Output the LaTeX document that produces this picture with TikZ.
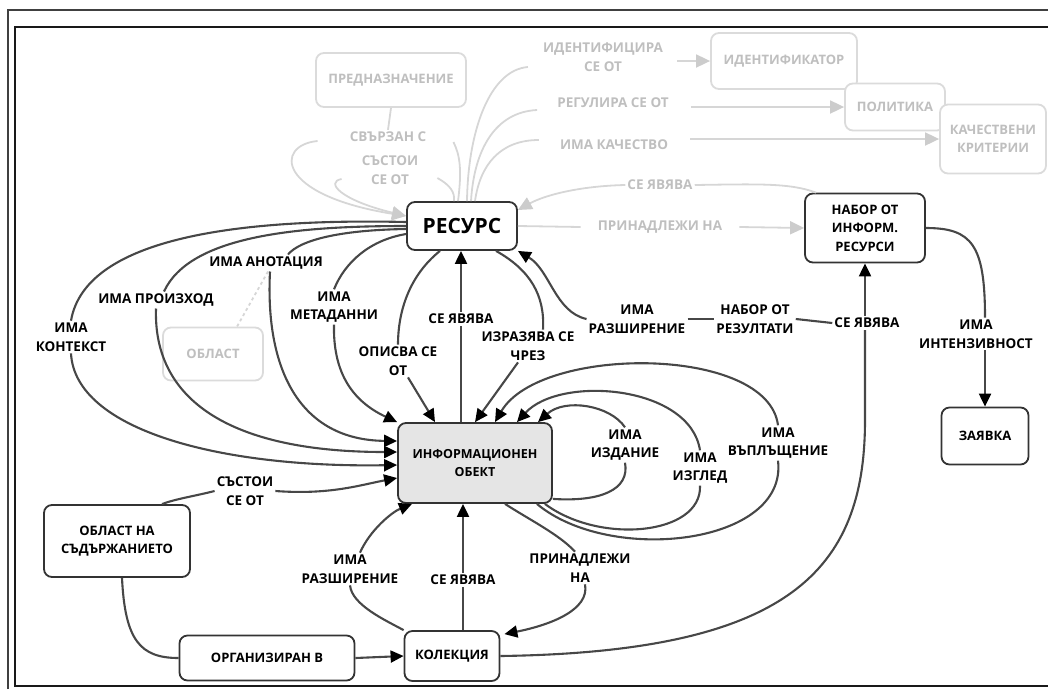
\documentclass[tikz,border=0pt]{standalone}
\usepackage{fontspec}
\setmainfont{Open Sans}
\usetikzlibrary{arrows.meta,calc}
\begin{document}
\begin{tikzpicture}[x=1pt,y=-1pt,
  concept/.style={draw=black!80, line width=1.8pt, rounded corners=8pt, fill=white,
    align=center, font=\bfseries\fontsize{13}{18.5}\selectfont, inner sep=0pt},
  faint/.style={concept, draw=black!14, text=black!25},
  lbl/.style={align=center, font=\bfseries\fontsize{13.5}{18.5}\selectfont, inner sep=2pt},
  flbl/.style={lbl, text=black!25},
  cline/.style={draw=black!72, line width=2.1pt},
  fline/.style={draw=black!16, line width=1.8pt},
  arrowhd/.style={-{Triangle[length=13pt,width=12pt,color=black]}},
  farrowhd/.style={-{Triangle[length=14pt,width=13pt,color=black!20]}},
]
\useasboundingbox (0,0) rectangle (1048,689);

% frame
\draw[black!75, line width=1.2pt] (8,689) -- (8,10) -- (1048,10);
\draw[black!90, line width=2.6pt] (1048,27) -- (15,27) -- (15,686) -- (1048,686);

% concepts
\node[concept, minimum width=110pt, minimum height=48pt,
  font=\bfseries\fontsize{21}{24}\selectfont] (res) at (462,226) {РЕСУРС};
\node[concept, fill=black!10, minimum width=154pt, minimum height=80pt,
  font=\bfseries\fontsize{12.5}{18}\selectfont] (io) at (475,463) {ИНФОРМАЦИОНЕН\\ОБЕКТ};
\node[faint, minimum width=150pt, minimum height=54pt] (pred) at (391,80) {ПРЕДНАЗНАЧЕНИЕ};
\node[faint, minimum width=146pt, minimum height=56pt] (ident) at (784,61) {ИДЕНТИФИКАТОР};
\node[faint, minimum width=100pt, minimum height=47pt] (polit) at (895,107) {ПОЛИТИКА};
\node[faint, minimum width=106pt, minimum height=69pt] (kach) at (993,139) {КАЧЕСТВЕНИ\\КРИТЕРИИ};
\node[concept, minimum width=120pt, minimum height=69pt] (nabor) at (865,228) {НАБОР ОТ\\ИНФОРМ.\\РЕСУРСИ};
\node[faint, minimum width=100pt, minimum height=53pt] (oblast) at (213,354) {ОБЛАСТ};
\node[concept, minimum width=87pt, minimum height=57pt] (zayavka) at (985,436) {ЗАЯВКА};
\node[concept, minimum width=146pt, minimum height=72pt] (obl2) at (117,541) {ОБЛАСТ НА\\СЪДЪРЖАНИЕТО};
\node[concept, minimum width=175pt, minimum height=45pt] (org) at (267,658) {ОРГАНИЗИРАН В};
\node[concept, minimum width=95pt, minimum height=50pt] (kol) at (452,656) {КОЛЕКЦИЯ};

% linking phrases
\node[flbl] (lIdent) at (603,57) {ИДЕНТИФИЦИРА\\СЕ ОТ};
\node[flbl] (lReg) at (613,103) {РЕГУЛИРА СЕ ОТ};
\node[flbl] (lKach) at (614,145) {ИМА КАЧЕСТВО};
\node[flbl] (lSeYav1) at (660,185) {СЕ ЯВЯВА};
\node[flbl, inner xsep=17pt] (lPrin1) at (660,227) {ПРИНАДЛЕЖИ НА};
\node[flbl] (lSvr) at (388,137) {СВЪРЗАН С};
\node[flbl] (lSast1) at (390,170) {СЪСТОИ\\СЕ ОТ};
\node[lbl] (lAnot) at (266,263) {ИМА АНОТАЦИЯ};
\node[lbl] (lProiz) at (156,300) {ИМА ПРОИЗХОД};
\node[lbl] (lKont) at (71,337) {ИМА\\КОНТЕКСТ};
\node[lbl] (lMeta) at (334,307) {ИМА\\МЕТАДАННИ};
\node[lbl] (lOpis) at (398,361) {ОПИСВА СЕ\\ОТ};
\node[lbl] (lSeYav2) at (461,319) {СЕ ЯВЯВА};
\node[lbl] (lIzr) at (528,346) {ИЗРАЗЯВА СЕ\\ЧРЕЗ};
\node[lbl] (lRazsh1) at (637,319) {ИМА\\РАЗШИРЕНИЕ};
\node[lbl] (lNabRez) at (755,319) {НАБОР ОТ\\РЕЗУЛТАТИ};
\node[lbl] (lSeYav3) at (867,323) {СЕ ЯВЯВА};
\node[lbl] (lInt) at (976,334) {ИМА\\ИНТЕНЗИВНОСТ};
\node[lbl] (lIzd) at (625,445) {ИМА\\ИЗДАНИЕ};
\node[lbl] (lIzgl) at (700,468) {ИМА\\ИЗГЛЕД};
\node[lbl] (lVapl) at (778,443) {ИМА\\ВЪПЛЪЩЕНИЕ};
\node[lbl] (lSast2) at (245,491) {СЪСТОИ\\СЕ ОТ};
\node[lbl] (lRazsh2) at (350,569) {ИМА\\РАЗШИРЕНИЕ};
\node[lbl] (lSeYav4) at (463,580) {СЕ ЯВЯВА};
\node[lbl] (lPrin2) at (580,568) {ПРИНАДЛЕЖИ\\НА};

% faded links around РЕСУРС
\draw[fline] ($(res.north)+(5,0)$) .. controls (468,130) and (490,70) .. ($(lIdent.west)+(-13,10)$);
\draw[fline, farrowhd] ($(lIdent.east |- ident.west)+(12,0)$) -- (ident.west);
\draw[fline] ($(res.north)+(9,0)$) .. controls (474,150) and (495,112) .. ($(lReg.west)+(-18,7)$);
\draw[fline, farrowhd] ($(lReg.east |- polit.west)+(20,0)$) -- (polit.west);
\draw[fline] ($(res.north)+(13,0)$) .. controls (480,165) and (500,140) .. ($(lKach.west)+(-19,-5)$);
\draw[fline, farrowhd] ($(lKach.east |- kach.west)+(20,0)$) -- (kach.west);
\draw[fline] ($(nabor.north west)+(12,0)$) .. controls (790,183) and (760,184) .. (lSeYav1.east);
\draw[fline, farrowhd] (lSeYav1.west) .. controls (580,186) and (545,195) .. ($(res.east)+(0,-16)$);
\draw[fline] (res.east) -- (lPrin1.west);
\draw[fline, farrowhd] (lPrin1.east) -- (nabor.west);
\draw[fline] (pred.south) -- (lSvr.north);
\draw[fline, farrowhd] ($(lSvr.west)+(-30,4)$) .. controls (275,145) and (275,195) .. ($(res.west)+(0,-10)$);
\draw[fline] ($(res.north)+(-4,0)$) .. controls (462,170) and (460,155) .. ($(lSvr.east)+(25,5)$);
\draw[fline, farrowhd] ($(lSast1.west)+(-18,9)$) .. controls (325,182) and (340,200) .. ($(res.west)+(0,-10)$);
\draw[fline] ($(lSast1.east)+(17,8)$) .. controls (450,185) and (455,192) .. ($(res.north)+(-8,0)$);
\draw[fline, dashed] ($(lAnot.south)+(2,0)$) -- ($(oblast.north)+(24,0)$);

% links from РЕСУРС to ИНФОРМАЦИОНЕН ОБЕКТ
\draw[cline] ($(res.west)+(0,-4)$) .. controls (230,218) and (85,240) .. (lKont.north);
\draw[cline, arrowhd] (lKont.south) .. controls (75,430) and (220,468) .. ($(io.west)+(0,2)$);
\draw[cline] (res.west) .. controls (300,226) and (190,235) .. ($(lProiz.north)+(8,0)$);
\draw[cline, arrowhd] (lProiz.south) .. controls (153,400) and (230,452) .. ($(io.west)+(0,-11)$);
\draw[cline] ($(res.west)+(0,3)$) .. controls (340,230) and (300,240) .. ($(lAnot.north)+(22,0)$);
\draw[cline, arrowhd] ($(lAnot.south)+(4,0)$) .. controls (265,370) and (300,440) .. ($(io.west)+(0,-22)$);
\draw[cline] ($(res.west)+(0,8)$) .. controls (370,240) and (345,262) .. (lMeta.north);
\draw[cline, arrowhd] (lMeta.south) .. controls (333,370) and (350,400) .. (io.north west);
\draw[cline] ($(res.south)+(-22,0)$) .. controls (410,275) and (398,310) .. (lOpis.north);
\draw[cline, arrowhd] ($(lOpis.south)+(10,0)$) -- ($(io.north)+(-40,0)$);
\draw[cline] (io.north -| lSeYav2.south) -- (lSeYav2.south);
\draw[cline, arrowhd] (lSeYav2.north) -- (res.south -| lSeYav2.north);
\draw[cline] ($(res.south)+(34,0)$) .. controls (530,270) and (545,295) .. ($(lIzr.north)+(15,0)$);
\draw[cline, arrowhd] ($(lIzr.south)+(-10,0)$) -- (io.north);

% extension, result set, collection
\draw[cline, arrowhd] (lRazsh1.west) .. controls (555,312) and (550,270) .. (res.south east);
\draw[cline] (lRazsh1.east) -- (lNabRez.west);
\draw[cline] (lNabRez.east) -- (lSeYav3.west);
\draw[cline, arrowhd] (lSeYav3.north -| nabor.south) -- (nabor.south);
\draw[cline] (kol.east) .. controls (790,652) and (865,570) .. (865,420) -- (lSeYav3.south -| nabor.south);
\draw[cline] (nabor.east) .. controls (972,228) and (985,245) .. (lInt.north -| zayavka.north);
\draw[cline, arrowhd] (lInt.south -| zayavka.north) -- (zayavka.north);

% self links of ИНФОРМАЦИОНЕН ОБЕКТ
\draw[cline] ($(io.south east)+(0,-5)$) .. controls (600,502) and (630,490) .. (lIzd.south);
\draw[cline, arrowhd] (lIzd.north) .. controls (610,405) and (565,398) .. ($(io.north)+(63,0)$);
\draw[cline] ($(io.south east)+(-8,0)$) .. controls (600,545) and (702,535) .. (lIzgl.south);
\draw[cline, arrowhd] (lIzgl.north) .. controls (690,385) and (560,375) .. ($(io.north)+(42,0)$);
\draw[cline] ($(io.south east)+(-16,0)$) .. controls (610,565) and (788,545) .. (lVapl.south);
\draw[cline, arrowhd] (lVapl.north) .. controls (768,345) and (540,345) .. ($(io.north)+(20,0)$);

% bottom part
\draw[cline] (kol.north west) .. controls (385,620) and (352,605) .. (lRazsh2.south);
\draw[cline, arrowhd] ($(lRazsh2.north)+(10,0)$) .. controls (370,530) and (392,512) .. ($(io.south)+(-63,0)$);
\draw[cline] (kol.north -| lSeYav4.south) -- (lSeYav4.south);
\draw[cline, arrowhd] (lSeYav4.north) -- (io.south -| lSeYav4.north);
\draw[cline] ($(io.south)+(30,0)$) .. controls (530,520) and (560,535) .. ($(lPrin2.north)+(-5,0)$);
\draw[cline, arrowhd] ($(lPrin2.south)+(5,0)$) .. controls (590,610) and (550,625) .. ($(kol.north east)+(4,4)$);
\draw[cline] ($(obl2.south)+(5,0)$) .. controls (125,640) and (140,658) .. (org.west);
\draw[cline, arrowhd] (org.east) -- (kol.west);
\draw[cline] ($(obl2.north)+(45,0)$) .. controls (175,499) and (195,496) .. (lSast2.west);
\draw[cline, arrowhd] (lSast2.east) .. controls (330,495) and (360,485) .. ($(io.west)+(0,15)$);
\end{tikzpicture}
\end{document}
